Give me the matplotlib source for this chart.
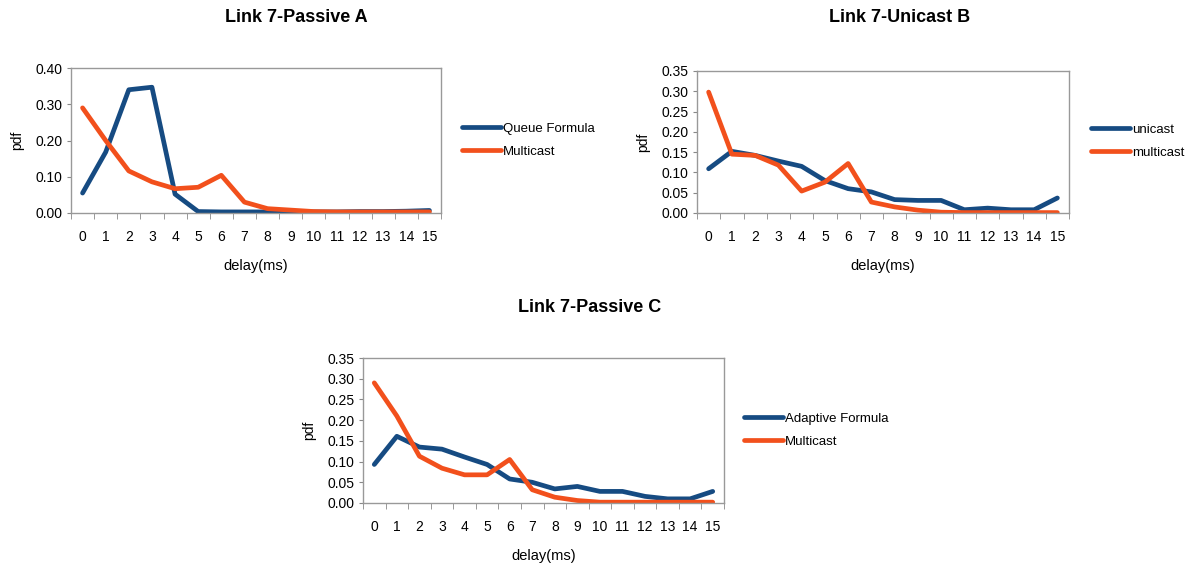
import matplotlib
matplotlib.use("Agg")
import matplotlib.pyplot as plt
import numpy as np

plt.rcParams['font.family'] = ['Liberation Sans', 'DejaVu Sans']

delay = np.arange(16)
tick_labels = [str(d) for d in delay]

# Link 7-Passive A
queue_formula = [0.055, 0.168, 0.340, 0.347, 0.052, 0.004, 0.003, 0.003,
                 0.003, 0.003, 0.003, 0.003, 0.004, 0.004, 0.005, 0.007]
multicast_a = [0.290, 0.200, 0.116, 0.086, 0.067, 0.071, 0.104, 0.030,
               0.012, 0.008, 0.004, 0.003, 0.003, 0.003, 0.003, 0.003]

# Link 7-Unicast B
unicast_b = [0.109, 0.152, 0.142, 0.128, 0.115, 0.080, 0.060, 0.052,
             0.033, 0.031, 0.031, 0.008, 0.012, 0.008, 0.008, 0.037]
multicast_b = [0.298, 0.145, 0.142, 0.118, 0.054, 0.076, 0.122, 0.027,
               0.015, 0.007, 0.002, 0.001, 0.001, 0.001, 0.001, 0.001]

# Link 7-Passive C
adaptive_formula = [0.093, 0.161, 0.135, 0.130, 0.111, 0.093, 0.058, 0.050,
                    0.034, 0.040, 0.028, 0.028, 0.016, 0.010, 0.010, 0.028]
multicast_c = [0.290, 0.210, 0.113, 0.084, 0.068, 0.068, 0.105, 0.032,
               0.014, 0.006, 0.002, 0.002, 0.002, 0.002, 0.002, 0.002]

BLUE = '#164b82'
RED = '#f2501c'

fig = plt.figure(figsize=(11.99, 5.65), dpi=100)


def px_axes(x0, y0, x1, y1):
    # pixel box -> figure fraction
    W, H = 1199.0, 565.0
    return fig.add_axes([x0 / W, 1 - y1 / H, (x1 - x0) / W, (y1 - y0) / H])


def draw_panel(ax, blue, red, names, ymax, ystep, leg_xy):
    ax.plot(delay, blue, color=BLUE, lw=3.4, label=names[0],
            solid_capstyle='round', solid_joinstyle='round')
    ax.plot(delay, red, color=RED, lw=3.4, label=names[1],
            solid_capstyle='round', solid_joinstyle='round')
    ax.set_xlim(-0.5, 15.5)
    ax.set_ylim(0, ymax)
    ax.set_yticks(np.arange(0, ymax + ystep / 2, ystep))
    ax.yaxis.set_major_formatter(matplotlib.ticker.FormatStrFormatter('%.2f'))
    ax.set_xticks(delay)
    ax.set_xticklabels(tick_labels)
    ax.set_xticks(np.arange(-0.5, 16, 1), minor=True)
    ax.tick_params(axis='x', which='major', length=0, pad=12, labelsize=10)
    ax.tick_params(axis='x', which='minor', length=4, color='#888888')
    ax.tick_params(axis='y', length=3, color='#888888', labelsize=10, pad=3)
    for s in ax.spines.values():
        s.set_color('#999999')
        s.set_linewidth(1.0)
    ax.set_xlabel('delay(ms)', fontsize=10.5, labelpad=11)
    ax.set_ylabel('pdf', fontsize=10, labelpad=8)
    ax.legend(loc='center left', bbox_to_anchor=leg_xy,
              bbox_transform=fig.transFigure, frameon=False, fontsize=9.5,
              handlelength=3.0, handletextpad=0.1, labelspacing=0.8)


ax_a = px_axes(71, 68, 441, 213)
draw_panel(ax_a, queue_formula, multicast_a, ['Queue Formula', 'Multicast'],
           0.40, 0.10, (450 / 1199, 1 - 140 / 565))

ax_b = px_axes(697, 71, 1069, 213)
draw_panel(ax_b, unicast_b, multicast_b, ['unicast', 'multicast'],
           0.35, 0.05, (1079 / 1199, 1 - 141 / 565))

ax_c = px_axes(363, 358, 724, 503)
draw_panel(ax_c, adaptive_formula, multicast_c, ['Adaptive Formula', 'Multicast'],
           0.35, 0.05, (732 / 1199, 1 - 430 / 565))

fig.text(296 / 1199, 1 - 18 / 565, 'Link 7-Passive A', ha='center', va='center',
         fontsize=13, fontweight='bold')
fig.text(900 / 1199, 1 - 18 / 565, 'Link 7-Unicast B', ha='center', va='center',
         fontsize=13, fontweight='bold')
fig.text(590 / 1199, 1 - 308 / 565, 'Link 7-Passive C', ha='center', va='center',
         fontsize=13, fontweight='bold')

fig.savefig('out.png', dpi=100)
